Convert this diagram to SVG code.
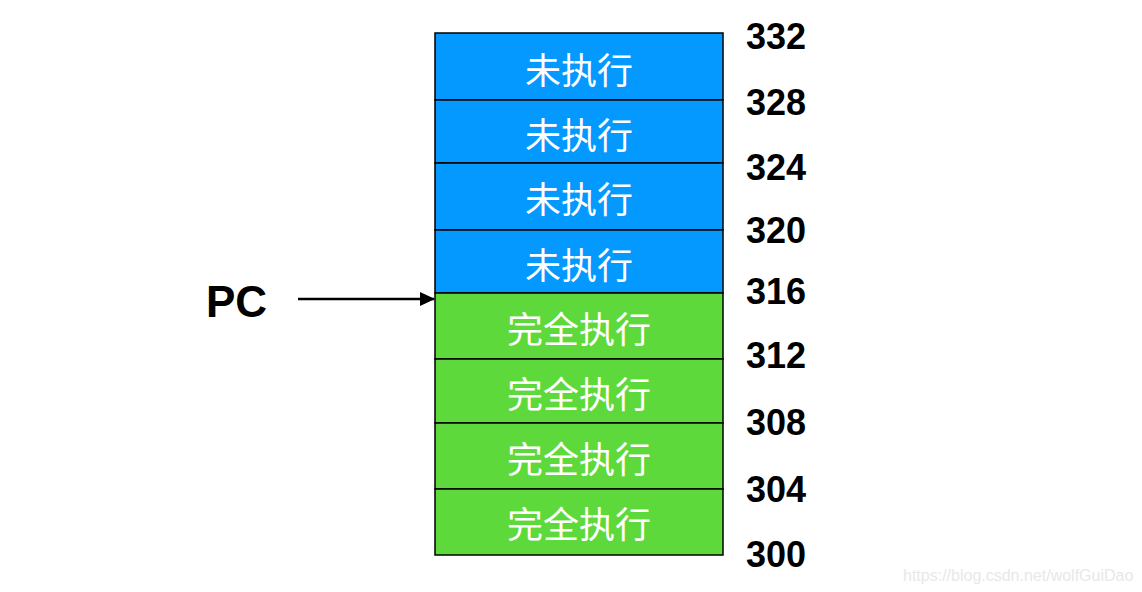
<svg xmlns="http://www.w3.org/2000/svg" width="1142" height="592" viewBox="0 0 1142 592">
<defs>
<marker id="ah" markerWidth="15" markerHeight="14" refX="14" refY="7" orient="auto" markerUnits="userSpaceOnUse">
<path d="M0,0 L15,7 L0,14 Z" fill="#000"/>
</marker>
<style>
.blue{fill:#0399fe;stroke:#000;stroke-width:1.5}
.green{fill:#5ed93b;stroke:#000;stroke-width:1.5}
.cell{font-family:"Noto Sans CJK SC","Noto Sans",sans-serif;font-size:36px;fill:#fff;text-anchor:middle;dominant-baseline:central}
.num{font-family:"Liberation Sans",Arial,sans-serif;font-size:36px;font-weight:bold;fill:#000}
.pc{font-family:"Liberation Sans",Arial,sans-serif;font-size:44px;font-weight:bold;fill:#000}
</style>
</defs>
<rect width="1142" height="592" fill="#fff"/>
<g id="cell1"><rect class="blue" x="435" y="33" width="288" height="67"/><text class="cell" x="579" y="68">未执行</text></g>
<g id="cell2"><rect class="blue" x="435" y="100" width="288" height="63"/><text class="cell" x="579" y="133">未执行</text></g>
<g id="cell3"><rect class="blue" x="435" y="163" width="288" height="67"/><text class="cell" x="579" y="197">未执行</text></g>
<g id="cell4"><rect class="blue" x="435" y="230" width="288" height="63"/><text class="cell" x="579" y="263">未执行</text></g>
<g id="cell5"><rect class="green" x="435" y="293" width="288" height="66"/><text class="cell" x="579" y="327">完全执行</text></g>
<g id="cell6"><rect class="green" x="435" y="359" width="288" height="64"/><text class="cell" x="579" y="392">完全执行</text></g>
<g id="cell7"><rect class="green" x="435" y="423" width="288" height="66"/><text class="cell" x="579" y="457">完全执行</text></g>
<g id="cell8"><rect class="green" x="435" y="489" width="288" height="66"/><text class="cell" x="579" y="522">完全执行</text></g>
<g id="labels">
<text class="num" x="746" y="49">332</text>
<text class="num" x="746" y="115">328</text>
<text class="num" x="746" y="180">324</text>
<text class="num" x="746" y="243">320</text>
<text class="num" x="746" y="304">316</text>
<text class="num" x="746" y="368">312</text>
<text class="num" x="746" y="435">308</text>
<text class="num" x="746" y="502">304</text>
<text class="num" x="746" y="567">300</text>
</g>
<g id="pc"><text class="pc" x="206" y="317">PC</text></g>
<g id="connectors">
<line x1="298" y1="299" x2="434" y2="299" stroke="#000" stroke-width="2.5" marker-end="url(#ah)"/>
</g>
<text x="903" y="581" font-family="Liberation Sans,Arial,sans-serif" font-size="16" fill="#e8e8e8">https://blog.csdn.net/wolfGuiDao</text>
</svg>
